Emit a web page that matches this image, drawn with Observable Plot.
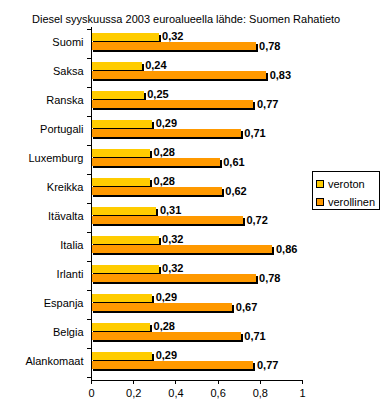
<!DOCTYPE html>
<html><head><meta charset="utf-8">
<script src="https://cdn.jsdelivr.net/npm/d3@7"></script>
<script src="https://cdn.jsdelivr.net/npm/@observablehq/plot@0.6"></script>
<style>
body{margin:0;background:#fff;font-family:"Liberation Sans",Arial,sans-serif;color:#000;}
#wrap{position:relative;width:385px;height:411px;overflow:hidden;}
#wrap svg{position:absolute;left:0;top:0;}
#title{position:absolute;left:32px;top:13px;font-size:11px;line-height:13px;white-space:nowrap;}
#legend{position:absolute;left:312px;top:171px;width:66px;height:37px;border:1px solid #000;background:#fff;font-size:11px;}
#legend .it{position:absolute;left:3px;height:14px;line-height:14px;white-space:nowrap;}
#legend .sw{display:inline-block;width:6px;height:6px;border:1px solid #000;margin-right:4px;vertical-align:-0px;}
</style></head><body>
<div id="wrap"><div id="title"></div><div id="legend"></div></div>
<script>
const title = "Diesel syyskuussa 2003 euroalueella lähde: Suomen Rahatieto";
const countries = ["Suomi","Saksa","Ranska","Portugali","Luxemburg","Kreikka","Itävalta","Italia","Irlanti","Espanja","Belgia","Alankomaat"];
const veroton = [0.32,0.24,0.25,0.29,0.28,0.28,0.31,0.32,0.32,0.29,0.28,0.29];
const verollinen = [0.78,0.83,0.77,0.71,0.61,0.62,0.72,0.86,0.78,0.67,0.71,0.77];
const seriesNames = ["veroton","verollinen"];
const seriesColors = ["#FFCC00","#FF9900"];
const xTicks = [0,0.2,0.4,0.6,0.8,1];

const fmt = d => String(d).replace(".", ",");
const W = 385, H = 411, mt = 27, mb = 31, ml = 91, mr = 83;
const pIn = 0.4, pOut = 0.2;
const step = (H - mt - mb) / countries.length;
const bw = step * (1 - pIn);
const half = bw / 2;
const sh = -2;

const rows0 = countries.map((c, i) => ({country: c, v: veroton[i]}));
const rows1 = countries.map((c, i) => ({country: c, v: verollinen[i]}));

const plot = Plot.plot({
  width: W, height: H, marginLeft: ml, marginRight: mr, marginTop: mt, marginBottom: mb,
  style: {fontFamily: "'Liberation Sans', Arial, sans-serif", fontSize: "11px", background: "transparent", color: "#000", overflow: "visible"},
  x: {domain: [0, 1]},
  y: {domain: countries, paddingInner: pIn, paddingOuter: pOut},
  marks: [
    Plot.barX(rows0, {x: "v", y: "country", fill: "#000", insetBottom: half, dx: 2, dy: sh + 2, shapeRendering: "crispEdges"}),
    Plot.barX(rows1, {x: "v", y: "country", fill: "#000", insetTop: half, dx: 2, dy: sh + 2, shapeRendering: "crispEdges"}),
    Plot.barX(rows0, {x: "v", y: "country", fill: seriesColors[0], insetBottom: half, dy: sh, shapeRendering: "crispEdges"}),
    Plot.barX(rows1, {x: "v", y: "country", fill: seriesColors[1], insetTop: half, dy: sh, shapeRendering: "crispEdges"}),
    Plot.text(rows0, {x: "v", y: "country", text: d => fmt(d.v), textAnchor: "start", dx: 3, dy: sh - half / 2 - 1, fontWeight: "bold", fontSize: 11}),
    Plot.text(rows1, {x: "v", y: "country", text: d => fmt(d.v), textAnchor: "start", dx: 3, dy: sh + half / 2, fontWeight: "bold", fontSize: 11}),
    Plot.ruleX([0], {stroke: "#000", shapeRendering: "crispEdges"}),
    Plot.frame({anchor: "bottom", stroke: "#000", shapeRendering: "crispEdges"}),
    Plot.axisY({tickSize: 0, tickPadding: 8, label: null, fill: "#000", dy: -2}),
    Plot.axisY({tickSize: 4, text: null, label: null, dy: step / 2, stroke: "#000", shapeRendering: "crispEdges"}),
    Plot.axisY({ticks: [countries[0]], tickSize: 4, text: null, label: null, dy: -step / 2, stroke: "#000", shapeRendering: "crispEdges"}),
    Plot.axisX({ticks: xTicks, tickFormat: fmt, tickSize: 4, tickPadding: 5, label: null, stroke: "#000", fill: "#000", shapeRendering: "crispEdges"})
  ]
});
const wrap = document.getElementById("wrap");
wrap.insertBefore(plot, wrap.firstChild);
document.getElementById("title").textContent = title;
const leg = document.getElementById("legend");
const tops = [5, 23];
seriesNames.forEach((n, i) => {
  const it = document.createElement("div");
  it.className = "it";
  it.style.top = tops[i] + "px";
  const sw = document.createElement("span");
  sw.className = "sw";
  sw.style.background = seriesColors[i];
  it.appendChild(sw);
  it.appendChild(document.createTextNode(n));
  leg.appendChild(it);
});
</script>
</body></html>
